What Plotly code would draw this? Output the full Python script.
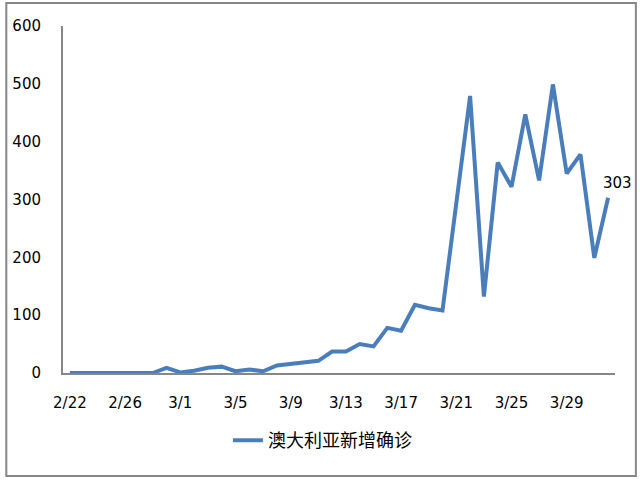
import plotly.graph_objects as go

dates = ["2/22","2/23","2/24","2/25","2/26","2/27","2/28","2/29",
         "3/1","3/2","3/3","3/4","3/5","3/6","3/7","3/8","3/9","3/10","3/11","3/12",
         "3/13","3/14","3/15","3/16","3/17","3/18","3/19","3/20","3/21","3/22",
         "3/23","3/24","3/25","3/26","3/27","3/28","3/29","3/30","3/31","4/1"]
new_cases = [0,0,0,0,0,0,0,9,1,4,9,11,3,6,3,13,16,18,21,37,
             37,50,46,78,73,118,112,108,290,479,132,364,322,447,333,499,345,378,199,303]
tick_labels = ["2/22","2/26","3/1","3/5","3/9","3/13","3/17","3/21","3/25","3/29"]
y_ticks = [0,100,200,300,400,500,600]
series_name = "澳大利亚新增确诊"

blue = "#4A7EBB"
axis_gray = "#868686"
font_main = "DejaVu Sans"

fig = go.Figure()
fig.add_trace(go.Scatter(
    x=dates, y=new_cases, mode="lines", name=series_name,
    line=dict(color=blue, width=4),
))
fig.add_annotation(
    x=dates[-1], y=new_cases[-1], text=str(new_cases[-1]), showarrow=False,
    xshift=9, yshift=15, font=dict(family=font_main, size=15, color="#000000"),
)

fig.update_layout(
    width=640, height=480,
    margin=dict(l=60, r=25, t=26, b=107),
    paper_bgcolor="white", plot_bgcolor="white",
    showlegend=True,
    legend=dict(orientation="h", x=0.47, y=-0.195, xanchor="center", yanchor="middle",
                font=dict(family="Noto Sans CJK SC", size=18, color="#000000")),
    xaxis=dict(type="category", tickmode="array", tickvals=tick_labels, ticktext=tick_labels,
               showline=True, linecolor=axis_gray, linewidth=2, showgrid=False,
               zeroline=False, ticks="", ticklabelstandoff=15,
               tickfont=dict(family=font_main, size=15, color="#000000"),
               range=[-0.5, len(dates) - 0.5]),
    yaxis=dict(range=[0, 600], tickvals=y_ticks, showline=True, linecolor=axis_gray,
               linewidth=2, showgrid=False, zeroline=False, ticks="",
               ticklabelstandoff=17,
               tickfont=dict(family=font_main, size=15, color="#000000")),
    shapes=[dict(type="rect", xref="paper", yref="paper",
                 x0=-0.1027, x1=1.0378, y0=-0.2968, y1=1.0663,
                 line=dict(color=axis_gray, width=2), fillcolor="rgba(0,0,0,0)")],
)

fig.write_html("out.html", config={"displayModeBar": False},
               post_script="document.body.style.margin='0';")
